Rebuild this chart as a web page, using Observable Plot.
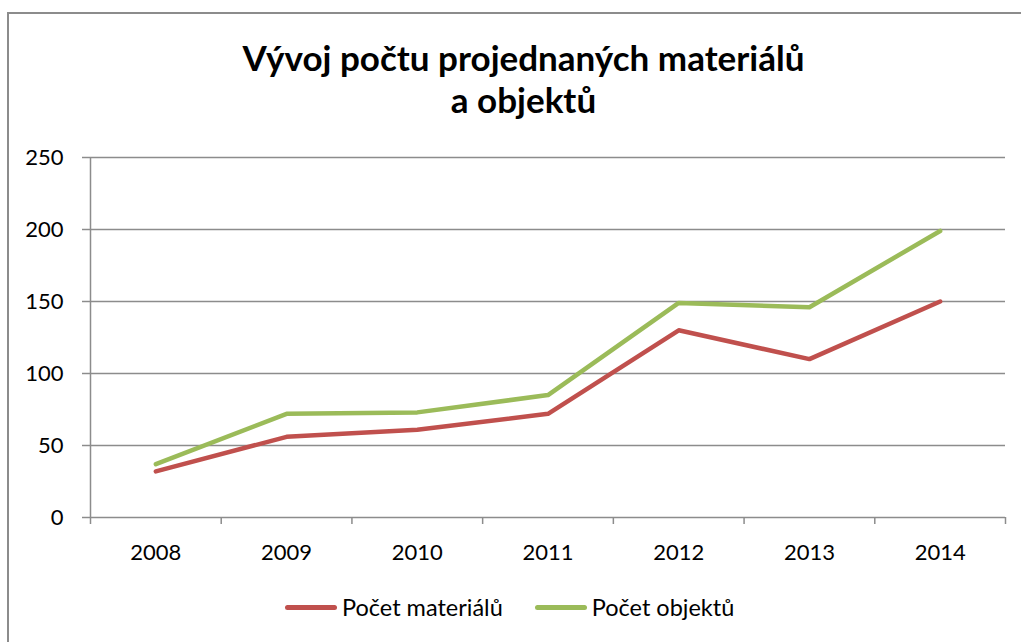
<!DOCTYPE html>
<html><head><meta charset="utf-8">
<script src="https://cdn.jsdelivr.net/npm/d3@7"></script>
<script src="https://cdn.jsdelivr.net/npm/@observablehq/plot@0.6"></script>
<style>
body{margin:0;background:#fff;font-family:Lato,"Open Sans",sans-serif;position:relative;width:1021px;height:642px;overflow:hidden;color:#000}
#frame{position:absolute;left:7px;top:12px;width:1100px;height:700px;border-left:2px solid #8c8c8c;border-top:2px solid #8c8c8c;box-sizing:border-box;pointer-events:none}
#title{box-sizing:border-box;width:1021px;padding-top:36px;padding-left:26px;text-align:center;font-weight:bold;font-size:35px;line-height:42px;height:121px}
#chart svg{display:block}
#legend{display:flex;align-items:center;padding-left:285px;margin-top:12px;height:30px;font-size:23.5px}
.item{display:flex;align-items:center;margin-right:32px}
.sw{display:inline-block;width:52px;height:5px;border-radius:2.5px;margin-right:5px}
</style></head>
<body>
<div id="frame"></div>
<div id="title">Vývoj počtu projednaných materiálů<br>a objektů</div>
<div id="chart"></div>
<div id="legend"></div>
<script>
const years = [2008, 2009, 2010, 2011, 2012, 2013, 2014];
const materialy = [32, 56, 61, 72, 130, 110, 150];
const objekty = [37, 72, 73, 85, 149, 146, 199];
const seriesNames = ["Počet materiálů", "Počet objektů"];
const seriesColors = ["#C0504D", "#9BBB59"];
const yTicks = [0, 50, 100, 150, 200, 250];

const rows = [];
years.forEach((yr, i) => {
  rows.push({year: yr, value: materialy[i], series: seriesNames[0]});
  rows.push({year: yr, value: objekty[i], series: seriesNames[1]});
});
const bounds = d3.range(years.length + 1).map(i => years[0] - 0.5 + i);
const grid = "#8c8c8c";

const chart = Plot.plot({
  width: 1021, height: 459,
  marginTop: 36, marginBottom: 63, marginLeft: 90, marginRight: 16,
  x: {domain: [years[0] - 0.5, years[years.length - 1] + 0.5]},
  y: {domain: [0, 250]},
  color: {domain: seriesNames, range: seriesColors},
  style: {fontFamily: "Lato, 'Open Sans', sans-serif", fontSize: "22px", color: "#000", background: "white"},
  marks: [
    Plot.gridY(yTicks, {stroke: grid, strokeOpacity: 1, strokeWidth: 1.5}),
    Plot.axisY(yTicks, {tickSize: 8, tickPadding: 19, stroke: grid, strokeWidth: 1.5, fill: "#000", fontSize: 22, label: null}),
    Plot.axisX(bounds, {tickSize: 7, tickFormat: () => "", stroke: grid, strokeWidth: 1.5, label: null}),
    Plot.axisX(years, {tickSize: 0, tickPadding: 27, tickFormat: d => String(d), fill: "#000", fontSize: 22, label: null}),
    Plot.ruleX([bounds[0]], {y1: 0, y2: 250, stroke: grid, strokeWidth: 1.5}),
    Plot.lineY(rows, {x: "year", y: "value", z: "series", stroke: "series", strokeWidth: 4.5, strokeLinejoin: "round", strokeLinecap: "round"})
  ]
});
document.getElementById("chart").appendChild(chart);

const leg = document.getElementById("legend");
seriesNames.forEach((n, i) => {
  const it = document.createElement("div");
  it.className = "item";
  const sw = document.createElement("span");
  sw.className = "sw";
  sw.style.background = seriesColors[i];
  const t = document.createElement("span");
  t.textContent = n;
  it.appendChild(sw); it.appendChild(t);
  leg.appendChild(it);
});
</script>
</body></html>
